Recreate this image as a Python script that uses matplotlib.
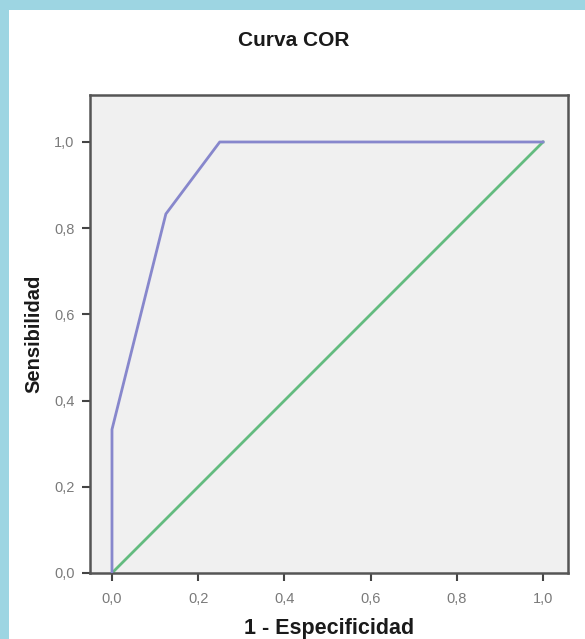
import matplotlib
matplotlib.use("Agg")
import matplotlib.pyplot as plt
from matplotlib.patches import Rectangle
from matplotlib.ticker import FuncFormatter

# Data
fpr = [0.0, 0.0, 0.125, 0.25, 1.0]
tpr = [0.0, 0.333, 0.833, 1.0, 1.0]
ref_x = [0.0, 1.0]
ref_y = [0.0, 1.0]
ticks = [0.0, 0.2, 0.4, 0.6, 0.8, 1.0]
title = "Curva COR"
xlabel = "1 - Especificidad"
ylabel = "Sensibilidad"

plt.rcParams['font.family'] = ['Liberation Sans', 'DejaVu Sans']

fig = plt.figure(figsize=(5.85, 6.39), dpi=100)
fig.patch.set_facecolor('white')

# light blue border (left and top)
fig.patches.append(Rectangle((0, 0), 9/585, 1, transform=fig.transFigure,
                             facecolor='#9dd5e2', edgecolor='none', zorder=0))
fig.patches.append(Rectangle((0, 1 - 10/639), 1, 10/639, transform=fig.transFigure,
                             facecolor='#9dd5e2', edgecolor='none', zorder=0))

ax = fig.add_axes([90/585, (639-573)/639, (568-90)/585, (573-95)/639])
ax.set_facecolor('#f0f0f0')
ax.plot(fpr, tpr, color='#8787cc', lw=2, solid_joinstyle='round', zorder=3)
ax.plot(ref_x, ref_y, color='#63bb7f', lw=2, zorder=2)

ax.set_xlim(-0.051, 1.058)
ax.set_ylim(0.0, 1.109)
ax.set_xticks(ticks)
ax.set_yticks(ticks)
fmt = FuncFormatter(lambda v, p: f"{v:.1f}".replace('.', ','))
ax.xaxis.set_major_formatter(fmt)
ax.yaxis.set_major_formatter(fmt)
ax.tick_params(direction='out', length=6, width=1.5, color='#444444',
               labelcolor='#7a7a7a', labelsize=10.5, pad=5)
ax.tick_params(axis='x', pad=8)
for s in ax.spines.values():
    s.set_color('#555555')
    s.set_linewidth(1.8)

fig.text(294/585, 1 - 40/639, title, ha='center', va='center',
         fontsize=15, fontweight='bold', color='#1a1a1a')
ax.set_xlabel(xlabel, fontsize=15.5, fontweight='bold', color='#1a1a1a', labelpad=8)
ax.set_ylabel(ylabel, fontsize=14.5, fontweight='bold', color='#1a1a1a', labelpad=8)

fig.savefig('out.png', dpi=100)
